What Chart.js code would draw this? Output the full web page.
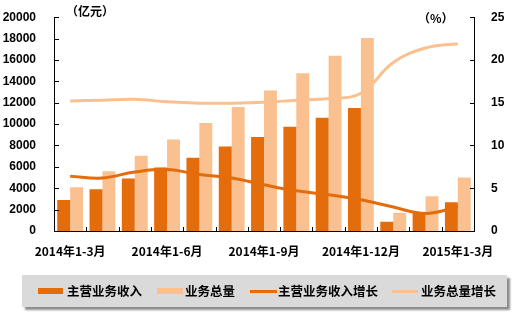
<!DOCTYPE html>
<html lang="zh">
<head>
    <meta charset="UTF-8">
    <title>主营业务收入与业务总量</title>
    <script src="https://cdn.jsdelivr.net/npm/chart.js@4.4.0/dist/chart.umd.min.js"></script>
    <style>
        body {
            margin: 0;
            background: #fff;
        }

        .wrap {
            position: relative;
            width: 519px;
            height: 321px;
        }

        .legend {
            position: absolute;
            left: 22px;
            top: 275px;
            width: 485px;
            height: 32px;
            background: #dadada;
            box-shadow: 3px 3px 2px #8c8c8c;
            font-family: 'Noto Sans CJK SC', sans-serif;
            font-weight: bold;
            font-size: 12.5px;
            color: #000;
        }

        .legend span {
            position: absolute;
        }

        .legend .txt {
            top: 7px;
            line-height: 18px;
        }
    </style>
</head>
<body>
    <div class="wrap">
        <canvas id="chart" width="519" height="321"></canvas>
        <!-- 图例 -->
        <div class="legend">
            <span style="left:16px;top:13px;width:25px;height:6px;background:#e46c0a"></span>
            <span class="txt" style="left:45px">主营业务收入</span>
            <span style="left:135px;top:13px;width:26px;height:6px;background:#fac090"></span>
            <span class="txt" style="left:163px">业务总量</span>
            <span style="left:228px;top:15px;width:27px;height:3px;background:#e46c0a"></span>
            <span class="txt" style="left:256px">主营业务收入增长</span>
            <span style="left:370px;top:15px;width:26px;height:3px;background:#fac090"></span>
            <span class="txt" style="left:399px">业务总量增长</span>
        </div>
    </div>

    <script>
        const months = ['2014年1-3月', '2014年1-4月', '2014年1-5月', '2014年1-6月', '2014年1-7月',
            '2014年1-8月', '2014年1-9月', '2014年1-10月', '2014年1-11月', '2014年1-12月',
            '2015年1月', '2015年1-2月', '2015年1-3月'];
        // 亿元
        const revenue = [2900, 3900, 4900, 5950, 6850, 7900, 8800, 9750, 10600, 11500, 860, 1650, 2700];
        const volume = [4100, 5600, 7050, 8550, 10100, 11600, 13150, 14750, 16400, 18050, 1700, 3250, 5000];
        // %
        const revenueGrowth = [6.4, 6.2, 6.9, 7.2, 6.6, 6.2, 5.4, 4.7, 4.25, 3.65, 2.8, 2.05, 2.8];
        const volumeGrowth = [15.2, 15.3, 15.4, 15.1, 14.95, 14.95, 15.05, 15.3, 15.5, 16.1, 19.7, 21.4, 21.9];

        const DARK = '#e46c0a';
        const LIGHT = '#fac090';
        const tickFont = { family: "'Liberation Sans', Arial, sans-serif", size: 12, weight: 'bold' };

        // 刻度线画在坐标轴内侧
        const innerTicks = {
            id: 'innerTicks',
            afterDraw(chart) {
                const ctx = chart.ctx;
                const a = chart.chartArea;
                const x = chart.scales.x;
                const yl = chart.scales.y;
                const yr = chart.scales.y1;
                ctx.save();
                ctx.strokeStyle = '#000';
                ctx.lineWidth = 1;
                ctx.beginPath();
                yl.ticks.forEach(t => {
                    const py = Math.round(yl.getPixelForValue(t.value)) + 0.5;
                    ctx.moveTo(a.left, py);
                    ctx.lineTo(a.left + 5, py);
                });
                yr.ticks.forEach(t => {
                    const py = Math.round(yr.getPixelForValue(t.value)) + 0.5;
                    ctx.moveTo(a.right, py);
                    ctx.lineTo(a.right - 4, py);
                });
                const half = (x.getPixelForValue(1) - x.getPixelForValue(0)) / 2;
                for (let i = 1; i < months.length; i++) {
                    const px = Math.round(x.getPixelForValue(i) - half) + 0.5;
                    ctx.moveTo(px, a.bottom);
                    ctx.lineTo(px, a.bottom - 4);
                }
                ctx.stroke();

                // 单位
                ctx.fillStyle = '#000';
                ctx.font = "bold 12px 'Noto Sans CJK SC', sans-serif";
                ctx.textBaseline = 'middle';
                ctx.fillText('（亿元）', 66, 11);
                ctx.fillText('（%）', 418, 18);
                ctx.restore();
            }
        };

        new Chart(document.getElementById('chart'), {
            data: {
                labels: months,
                datasets: [{
                    type: 'line',
                    label: '主营业务收入增长',
                    data: revenueGrowth,
                    yAxisID: 'y1',
                    borderColor: DARK,
                    borderWidth: 3,
                    pointRadius: 0,
                    tension: 0.4,
                    order: 0
                }, {
                    type: 'line',
                    label: '业务总量增长',
                    data: volumeGrowth,
                    yAxisID: 'y1',
                    borderColor: LIGHT,
                    borderWidth: 3,
                    pointRadius: 0,
                    tension: 0.4,
                    order: 0
                }, {
                    type: 'bar',
                    label: '主营业务收入',
                    data: revenue,
                    yAxisID: 'y',
                    backgroundColor: DARK,
                    barPercentage: 1,
                    categoryPercentage: 0.8,
                    order: 1
                }, {
                    type: 'bar',
                    label: '业务总量',
                    data: volume,
                    yAxisID: 'y',
                    backgroundColor: LIGHT,
                    barPercentage: 1,
                    categoryPercentage: 0.8,
                    order: 1
                }]
            },
            options: {
                responsive: false,
                animation: false,
                layout: { padding: { top: 15, left: 0, right: 0, bottom: 0 } },
                plugins: {
                    legend: { display: false },
                    tooltip: { enabled: false }
                },
                scales: {
                    x: {
                        grid: { display: false },
                        border: { color: '#000', width: 1 },
                        ticks: {
                            autoSkip: false,
                            maxRotation: 0,
                            padding: 5,
                            color: '#000',
                            font: { family: "'Noto Sans CJK SC', sans-serif", size: 12, weight: 'bold' },
                            callback: (v, i) => (i % 3 === 0 ? months[i] : '')
                        },
                        afterFit(s) { s.height = 90; }
                    },
                    y: {
                        position: 'left',
                        min: 0,
                        max: 20000,
                        grid: { display: false },
                        border: { color: '#000', width: 1 },
                        ticks: { stepSize: 2000, padding: 10, color: '#000', font: tickFont, callback: v => String(v) },
                        afterFit(s) { s.width = 54; }
                    },
                    y1: {
                        position: 'right',
                        min: 0,
                        max: 25,
                        grid: { display: false },
                        border: { color: '#000', width: 1 },
                        ticks: { stepSize: 5, padding: 9, color: '#000', font: tickFont, callback: v => String(v) },
                        afterFit(s) { s.width = 45; }
                    }
                }
            },
            plugins: [innerTicks]
        });
    </script>
</body>
</html>
